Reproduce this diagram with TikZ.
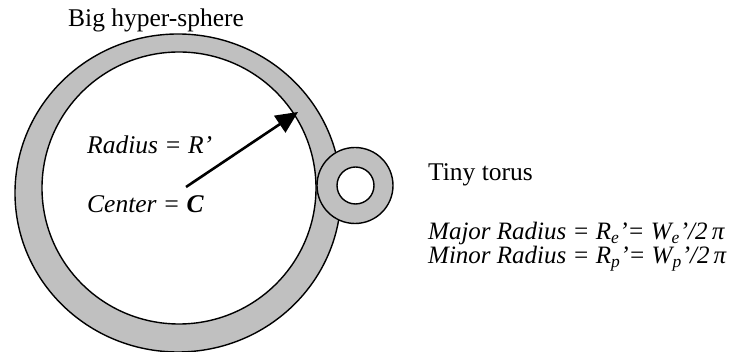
\documentclass[tikz,border=0pt]{standalone}
\usepackage{fontspec}
\setmainfont{Liberation Serif}
\usetikzlibrary{arrows.meta}
\definecolor{ringgray}{HTML}{C0C0C0}
\begin{document}
\begin{tikzpicture}[x=1pt,y=-1pt,
  ring/.style={draw=black,line width=1.4pt,fill=ringgray},
  hole/.style={draw=black,line width=1.4pt,fill=white},
  label/.style={anchor=base west,inner sep=0pt,font=\fontsize{25.5}{25.5}\selectfont},
  formula/.style={label,font=\fontsize{25}{25}\selectfont},
  radiusarrow/.style={line width=2.6pt,-{Triangle[length=22pt,width=20pt]}}]
\useasboundingbox (0,0) rectangle (729,352);
% big hyper-sphere: grey shell with a white interior
\draw[ring] (178,193) ellipse [x radius=163, y radius=159];
\draw[hole] (179,188) ellipse [x radius=137, y radius=136];
% tiny torus touching the shell
\draw[ring] (355,185.5) circle [radius=38];
\draw[hole] (355.5,185.5) circle [radius=18.5];
% radius arrow
\coordinate (center) at (186,187);
\coordinate (rim) at (298,112);
\draw[radiusarrow] (center) -- (rim);
% labels
\node[label] (title) at (68,27) {Big hyper-sphere};
\node[label] (radius) at (87,154) {\textit{Radius = R’}};
\node[label] (centre) at (87,213) {\textit{Center =} \textbf{\textit{C}}};
\node[label] (torus) at (428,181) {Tiny torus};
\node[formula] (major) at (428,240) {\textit{Major Radius = R\textsubscript{e}’= W\textsubscript{e}’/2\,π}};
\node[formula] (minor) at (428,264) {\textit{Minor Radius = R\textsubscript{p}’= W\textsubscript{p}’/2\,π}};
\end{tikzpicture}
\end{document}
